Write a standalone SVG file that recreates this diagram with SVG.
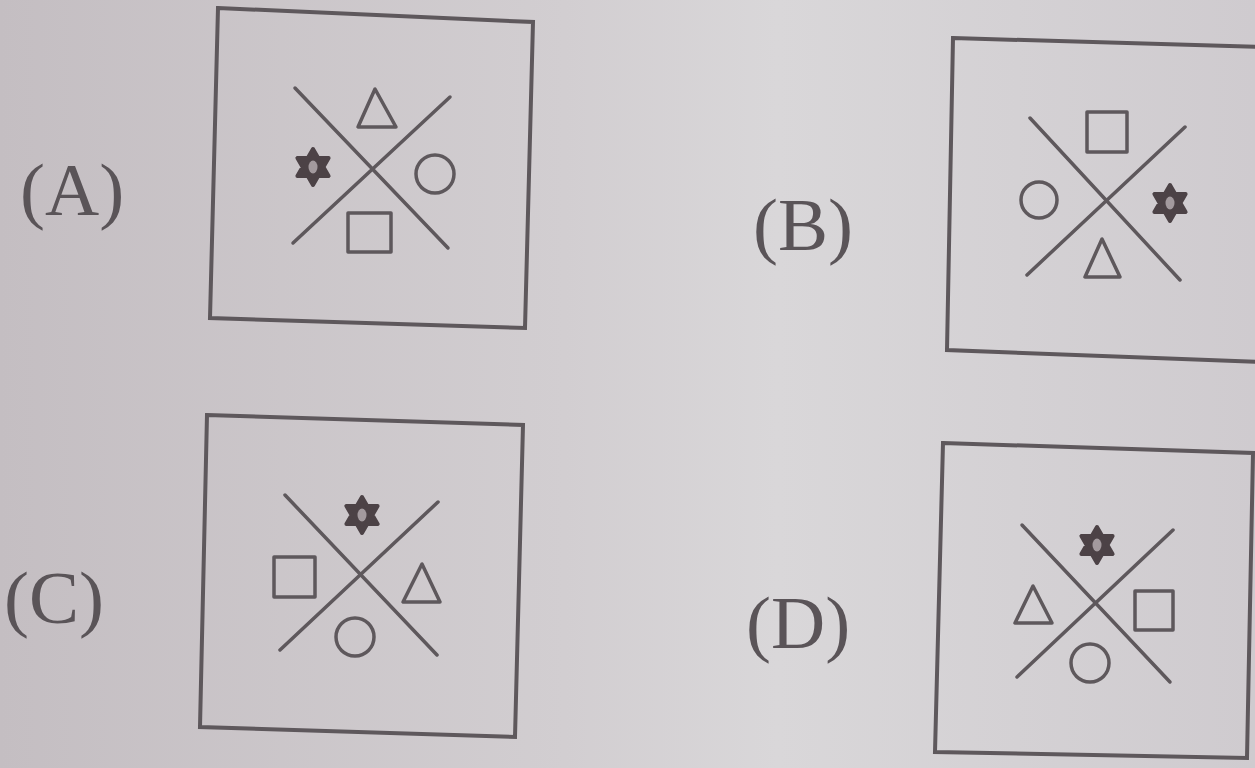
<svg xmlns="http://www.w3.org/2000/svg" width="1255" height="768" viewBox="0 0 1255 768">
<defs>
<linearGradient id="paper" x1="0" y1="0" x2="1" y2="0">
<stop offset="0" stop-color="#c4bec2"/>
<stop offset="0.45" stop-color="#d2ced1"/>
<stop offset="0.62" stop-color="#d9d7d9"/>
<stop offset="1" stop-color="#cfcbcf"/>
</linearGradient>
<g id="star">
<path d="M0,-18 L5.2,-9 L15.6,-9 L10.4,0 L15.6,9 L5.2,9 L0,18 L-5.2,9 L-15.6,9 L-10.4,0 L-15.6,-9 L-5.2,-9 Z" fill="#4c4246" stroke="#4c4246" stroke-width="4" stroke-linejoin="round"/>
<ellipse cx="0" cy="0" rx="4.5" ry="6.5" fill="#a39a9e"/>
</g>
</defs>
<style>
.box{fill:none;stroke:#5e585c;stroke-width:4}
.ln{stroke:#5e585c;stroke-width:3.5;stroke-linecap:round}
.sh{fill:none;stroke:#5e585c;stroke-width:3.5;stroke-linejoin:round}
.lbl{font-family:"Liberation Serif","DejaVu Serif",serif;font-size:75px;fill:#5a5458}
</style>
<rect x="0" y="0" width="1255" height="768" fill="url(#paper)"/>

<g id="optA">
<polygon class="box" points="218,8 533,22 525,328 210,318"/>
<text class="lbl" x="20" y="215">(A)</text>
</g>
<g id="optB">
<polygon class="box" points="953,38 1262,47 1262,362 947,350"/>
<text class="lbl" x="753" y="250">(B)</text>
</g>
<g id="optC">
<polygon class="box" points="207,415 523,425 515,737 200,727"/>
<text class="lbl" x="4" y="623">(C)</text>
</g>
<g id="optD">
<polygon class="box" points="943,443 1253,453 1247,758 935,752"/>
<text class="lbl" x="746" y="648">(D)</text>
</g>

<g id="connectors">
<line class="ln" x1="295" y1="88" x2="448" y2="248"/>
<line class="ln" x1="450" y1="97" x2="293" y2="243"/>
<line class="ln" x1="1030" y1="118" x2="1180" y2="280"/>
<line class="ln" x1="1185" y1="127" x2="1027" y2="275"/>
<line class="ln" x1="285" y1="495" x2="437" y2="655"/>
<line class="ln" x1="438" y1="502" x2="280" y2="650"/>
<line class="ln" x1="1022" y1="525" x2="1170" y2="682"/>
<line class="ln" x1="1173" y1="530" x2="1017" y2="677"/>
</g>

<g id="shapesA">
<polygon class="sh" points="375,89 358,127 396,127"/>
<use href="#star" x="313" y="167"/>
<circle class="sh" cx="435" cy="174" r="19"/>
<rect class="sh" x="348" y="213" width="43" height="39"/>
</g>
<g id="shapesB">
<rect class="sh" x="1087" y="112" width="40" height="40"/>
<circle class="sh" cx="1039" cy="200" r="18"/>
<use href="#star" x="1170" y="203"/>
<polygon class="sh" points="1102,239 1085,277 1120,277"/>
</g>
<g id="shapesC">
<use href="#star" x="362" y="515"/>
<rect class="sh" x="274" y="557" width="41" height="40"/>
<polygon class="sh" points="422,564 403,602 440,602"/>
<circle class="sh" cx="355" cy="637" r="19"/>
</g>
<g id="shapesD">
<use href="#star" x="1097" y="545"/>
<polygon class="sh" points="1033,586 1015,623 1052,623"/>
<rect class="sh" x="1135" y="591" width="38" height="39"/>
<circle class="sh" cx="1090" cy="663" r="19"/>
</g>
</svg>
